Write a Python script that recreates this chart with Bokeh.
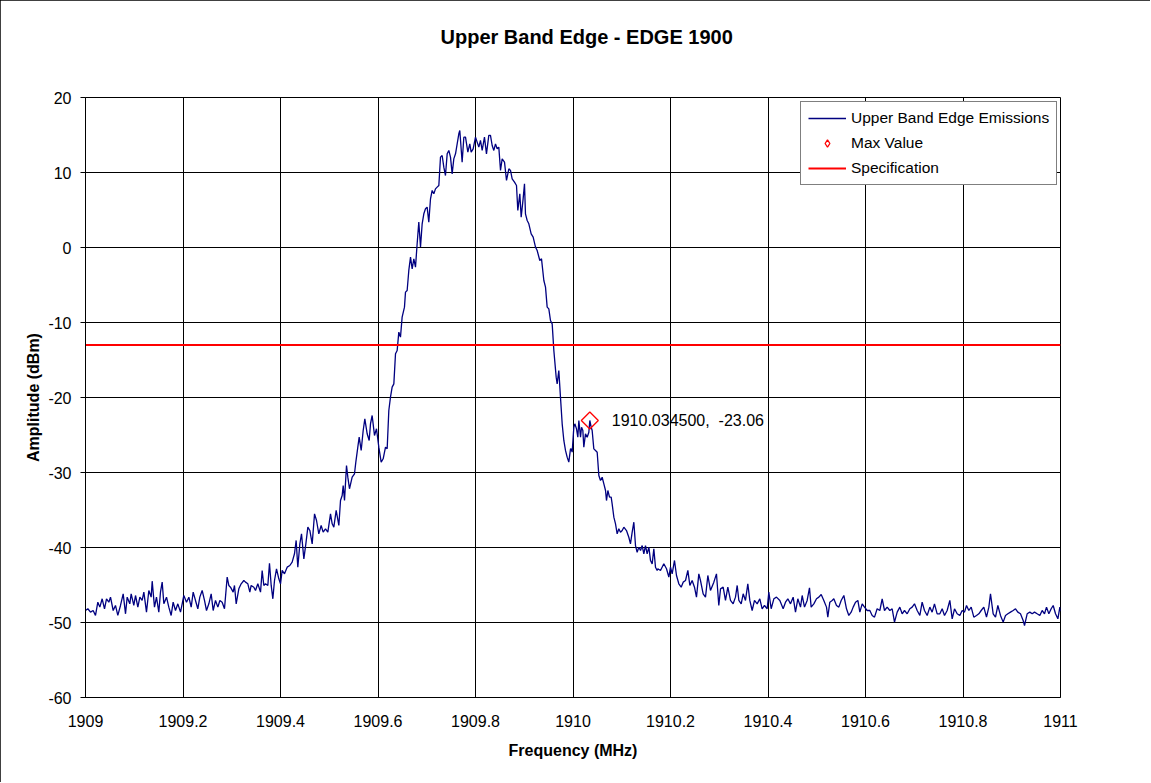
from bokeh.plotting import figure
from bokeh.models import FixedTicker, Legend, LegendItem, Label
from bokeh.embed import file_html
from bokeh.resources import INLINE
import math

# ---- data (frequency MHz, amplitude dBm) ----
floor_low = [
    (1909.0000, -48.40), (1909.0048, -48.17), (1909.0103, -48.62), (1909.0157, -48.40), (1909.0205, -49.06),
    (1909.0253, -47.29), (1909.0294, -47.95), (1909.0342, -46.84), (1909.0390, -48.17), (1909.0431, -46.84),
    (1909.0479, -47.29), (1909.0513, -46.62), (1909.0568, -48.40), (1909.0615, -47.73), (1909.0663, -49.06),
    (1909.0718, -47.73), (1909.0773, -46.17), (1909.0821, -48.84), (1909.0855, -46.62), (1909.0909, -47.51),
    (1909.0937, -46.17), (1909.0991, -47.73), (1909.1026, -46.40), (1909.1074, -47.95), (1909.1115, -46.62),
    (1909.1162, -47.06), (1909.1197, -45.95), (1909.1251, -48.62), (1909.1299, -45.73), (1909.1347, -46.62),
    (1909.1368, -44.49), (1909.1415, -47.95), (1909.1456, -46.62), (1909.1504, -48.62), (1909.1538, -45.95),
    (1909.1573, -44.62), (1909.1607, -47.51), (1909.1662, -46.62), (1909.1709, -47.95), (1909.1757, -49.06),
    (1909.1798, -47.29), (1909.1846, -48.40), (1909.1894, -47.51), (1909.1949, -48.62), (1909.1983, -47.51),
    (1909.2017, -46.40), (1909.2072, -47.29), (1909.2120, -46.62), (1909.2168, -47.95), (1909.2209, -45.95),
    (1909.2256, -47.06), (1909.2304, -48.17), (1909.2345, -46.62), (1909.2393, -45.73), (1909.2441, -47.06),
    (1909.2482, -48.40), (1909.2530, -47.51), (1909.2578, -46.17), (1909.2619, -48.40), (1909.2667, -47.06),
    (1909.2715, -47.95), (1909.2756, -47.06), (1909.2803, -47.29), (1909.2851, -48.17), (1909.2906, -43.95),
    (1909.2940, -45.06), (1909.2974, -45.29), (1909.3029, -45.95), (1909.3056, -45.06), (1909.3091, -47.51),
    (1909.3145, -45.51), (1909.3193, -44.84), (1909.3248, -44.40), (1909.3282, -44.62), (1909.3330, -44.84),
    (1909.3371, -45.95), (1909.3398, -45.06), (1909.3453, -45.29), (1909.3487, -45.73), (1909.3535, -44.84),
    (1909.3590, -45.95), (1909.3624, -43.06), (1909.3658, -45.06), (1909.3692, -44.84), (1909.3740, -45.06),
    (1909.3774, -42.09), (1909.3809, -45.06), (1909.3843, -46.84), (1909.3877, -44.40), (1909.3918, -42.84),
    (1909.3966, -44.17),
]

skirt_low = [
    (1909.4000, -44.84), (1909.4034, -43.06), (1909.4082, -43.51), (1909.4137, -42.62), (1909.4191, -42.40),
    (1909.4239, -41.95), (1909.4287, -40.84), (1909.4321, -39.06), (1909.4355, -42.62), (1909.4397, -39.51),
    (1909.4431, -38.17), (1909.4479, -41.51), (1909.4520, -39.51), (1909.4561, -37.28), (1909.4602, -37.73),
    (1909.4650, -39.51), (1909.4698, -35.51), (1909.4739, -36.40), (1909.4786, -38.17), (1909.4834, -37.06),
    (1909.4875, -37.95), (1909.4923, -37.51), (1909.4971, -37.95), (1909.5026, -35.51), (1909.5060, -36.84),
    (1909.5094, -37.28), (1909.5142, -35.06), (1909.5197, -37.06), (1909.5231, -33.73), (1909.5265, -33.06),
    (1909.5286, -31.73), (1909.5313, -33.73), (1909.5354, -29.06), (1909.5381, -30.62), (1909.5415, -32.17),
    (1909.5470, -30.62), (1909.5518, -30.17), (1909.5545, -28.62), (1909.5586, -26.62), (1909.5614, -25.28),
    (1909.5655, -27.06), (1909.5696, -24.40), (1909.5730, -22.84), (1909.5778, -24.84), (1909.5819, -25.73),
    (1909.5846, -23.51), (1909.5880, -22.40), (1909.5928, -25.06), (1909.5969, -24.17), (1909.6017, -26.62),
    (1909.6065, -28.62), (1909.6106, -28.17), (1909.6154, -26.62), (1909.6188, -26.84),
]

main_lobe = [
    (1909.6222, -21.73), (1909.6256, -19.95), (1909.6290, -18.62), (1909.6325, -18.18), (1909.6359, -14.17),
    (1909.6393, -13.73), (1909.6427, -11.29), (1909.6461, -11.95), (1909.6495, -9.29), (1909.6543, -7.95),
    (1909.6564, -5.95), (1909.6598, -5.73), (1909.6632, -3.06), (1909.6667, -1.29), (1909.6701, -2.84),
    (1909.6735, -1.51), (1909.6769, -2.62), (1909.6803, 0.49), (1909.6837, 3.38), (1909.6872, 0.07),
    (1909.6906, 3.16), (1909.6940, 4.49), (1909.6974, 5.16), (1909.7008, 5.38), (1909.7042, 3.38),
    (1909.7077, 6.49), (1909.7111, 7.60), (1909.7145, 7.16), (1909.7179, 7.82), (1909.7213, 8.05),
    (1909.7248, 8.27), (1909.7282, 12.05), (1909.7316, 12.27), (1909.7350, 10.71), (1909.7384, 9.60),
    (1909.7419, 12.49), (1909.7453, 12.94), (1909.7487, 12.05), (1909.7521, 9.82), (1909.7555, 11.82),
    (1909.7590, 12.49), (1909.7624, 13.82), (1909.7658, 15.16), (1909.7678, 15.60), (1909.7726, 11.38),
    (1909.7761, 14.71), (1909.7795, 14.71), (1909.7843, 12.71), (1909.7883, 13.82), (1909.7911, 12.71),
    (1909.7952, 13.16), (1909.8000, 14.71), (1909.8034, 14.05), (1909.8068, 13.38), (1909.8102, 14.27),
    (1909.8137, 12.94), (1909.8184, 14.71), (1909.8225, 12.49), (1909.8273, 14.94), (1909.8307, 14.94),
    (1909.8342, 13.60), (1909.8376, 12.94), (1909.8410, 13.82), (1909.8444, 13.16), (1909.8478, 13.38),
    (1909.8513, 10.27), (1909.8547, 11.82), (1909.8595, 11.38), (1909.8636, 8.94), (1909.8684, 10.49),
    (1909.8718, 10.27), (1909.8752, 9.16), (1909.8800, 8.71), (1909.8841, 8.27), (1909.8868, 4.94),
    (1909.8909, 7.16), (1909.8937, 4.05), (1909.8977, 6.49), (1909.9005, 8.49), (1909.9025, 4.49),
    (1909.9060, 3.60), (1909.9094, 3.16), (1909.9142, 1.82), (1909.9183, 1.38), (1909.9231, 0.05),
    (1909.9265, -0.40), (1909.9319, -1.73), (1909.9354, -1.51), (1909.9402, -4.40), (1909.9436, -5.29),
    (1909.9470, -7.95), (1909.9504, -8.18), (1909.9538, -9.73), (1909.9573, -10.18), (1909.9607, -13.73),
    (1909.9655, -17.29), (1909.9675, -18.18), (1909.9709, -16.40), (1909.9743, -19.95), (1909.9778, -23.51),
    (1909.9812, -25.73), (1909.9846, -27.06), (1909.9880, -27.95), (1909.9914, -28.62), (1909.9949, -26.84),
]

shoulder = [
    (1909.9962, -26.85), (1909.9983, -27.29), (1910.0017, -23.96), (1910.0038, -23.51), (1910.0072, -24.18),
    (1910.0099, -25.29), (1910.0120, -23.07), (1910.0154, -25.29), (1910.0175, -23.96), (1910.0202, -24.40),
    (1910.0222, -26.63), (1910.0256, -24.85), (1910.0291, -25.29), (1910.0325, -24.63), (1910.0345, -23.06),
    (1910.0373, -23.96), (1910.0393, -24.40), (1910.0427, -26.85), (1910.0462, -27.07), (1910.0496, -27.29),
    (1910.0530, -30.40), (1910.0564, -31.07), (1910.0598, -30.63), (1910.0633, -31.51), (1910.0667, -32.40),
    (1910.0687, -33.74), (1910.0715, -32.40), (1910.0749, -33.29), (1910.0783, -33.29), (1910.0803, -34.18),
    (1910.0838, -35.96), (1910.0872, -36.85), (1910.0906, -38.18), (1910.0940, -37.51), (1910.0974, -37.96),
    (1910.1009, -37.74), (1910.1043, -37.29), (1910.1097, -37.74), (1910.1145, -38.63), (1910.1179, -39.51),
    (1910.1214, -37.96), (1910.1248, -36.63), (1910.1282, -39.74), (1910.1316, -40.63), (1910.1350, -39.96),
    (1910.1385, -40.40), (1910.1419, -39.74), (1910.1453, -40.85), (1910.1487, -39.74), (1910.1521, -40.85),
    (1910.1556, -39.96), (1910.1590, -41.74), (1910.1624, -42.18), (1910.1658, -40.18), (1910.1692, -42.63),
    (1910.1726, -43.07),
]

floor_high = [
    (1910.1740, -42.84), (1910.1795, -43.06), (1910.1863, -42.17), (1910.1918, -42.84), (1910.1966, -43.95),
    (1910.2000, -42.62), (1910.2034, -43.51), (1910.2082, -41.73), (1910.2123, -43.73), (1910.2171, -44.84),
    (1910.2219, -45.29), (1910.2260, -44.62), (1910.2308, -44.40), (1910.2356, -43.06), (1910.2397, -45.06),
    (1910.2444, -44.40), (1910.2492, -45.29), (1910.2533, -46.62), (1910.2581, -43.51), (1910.2615, -44.40),
    (1910.2670, -46.17), (1910.2718, -46.62), (1910.2766, -43.73), (1910.2820, -45.73), (1910.2889, -44.62),
    (1910.2943, -43.51), (1910.2991, -47.73), (1910.3026, -45.51), (1910.3080, -45.29), (1910.3128, -47.06),
    (1910.3176, -45.29), (1910.3231, -47.06), (1910.3285, -47.51), (1910.3333, -46.62), (1910.3368, -45.06),
    (1910.3402, -47.06), (1910.3450, -47.51), (1910.3491, -46.17), (1910.3538, -47.06), (1910.3586, -44.84),
    (1910.3627, -47.06), (1910.3675, -48.40), (1910.3723, -47.06), (1910.3778, -47.51), (1910.3832, -46.84),
    (1910.3880, -48.17), (1910.3928, -47.73), (1910.3983, -48.17), (1910.4017, -45.95), (1910.4065, -48.17),
    (1910.4120, -46.84), (1910.4174, -46.62), (1910.4243, -47.06), (1910.4311, -48.17), (1910.4359, -47.29),
    (1910.4407, -46.84), (1910.4462, -47.51), (1910.4516, -46.62), (1910.4564, -48.62), (1910.4612, -46.84),
    (1910.4667, -47.95), (1910.4701, -46.40), (1910.4749, -47.95), (1910.4803, -47.06), (1910.4851, -45.37),
    (1910.4885, -47.95), (1910.4940, -47.51), (1910.4995, -46.84), (1910.5043, -46.62), (1910.5091, -46.26),
    (1910.5145, -47.06), (1910.5200, -47.95), (1910.5227, -49.29), (1910.5268, -47.29), (1910.5316, -47.06),
    (1910.5350, -46.84), (1910.5405, -47.73), (1910.5453, -47.95), (1910.5501, -47.06), (1910.5556, -46.40),
    (1910.5610, -48.17), (1910.5658, -49.06), (1910.5706, -48.62), (1910.5747, -47.95), (1910.5795, -47.29),
    (1910.5843, -47.06), (1910.5884, -48.62), (1910.5932, -47.51), (1910.5980, -47.95), (1910.6034, -48.40),
    (1910.6089, -48.40), (1910.6137, -49.06), (1910.6185, -49.29), (1910.6239, -48.17), (1910.6294, -48.40),
    (1910.6342, -46.84), (1910.6390, -48.40), (1910.6444, -47.95), (1910.6499, -48.40), (1910.6547, -48.17),
    (1910.6595, -49.95), (1910.6650, -48.62), (1910.6704, -47.95), (1910.6752, -48.84), (1910.6800, -48.40),
    (1910.6855, -48.84), (1910.6910, -48.17), (1910.6957, -47.95), (1910.7005, -47.51), (1910.7060, -48.40),
    (1910.7115, -49.06), (1910.7162, -47.29), (1910.7210, -48.40), (1910.7265, -49.06), (1910.7320, -47.95),
    (1910.7367, -48.62), (1910.7415, -47.51), (1910.7470, -48.84), (1910.7525, -48.84), (1910.7573, -48.17),
    (1910.7621, -49.06), (1910.7675, -48.40), (1910.7730, -47.06), (1910.7778, -49.51), (1910.7826, -48.17),
    (1910.7880, -48.84), (1910.7935, -49.06), (1910.7983, -48.40), (1910.8031, -48.62), (1910.8072, -47.73),
    (1910.8120, -48.40), (1910.8168, -47.95), (1910.8222, -49.29), (1910.8277, -49.06), (1910.8325, -48.84),
    (1910.8373, -48.40), (1910.8427, -47.95), (1910.8482, -49.29), (1910.8530, -47.95), (1910.8564, -46.17),
    (1910.8619, -48.84), (1910.8667, -49.29), (1910.8715, -47.73), (1910.8769, -49.06), (1910.8824, -49.95),
    (1910.8872, -49.06), (1910.8920, -48.84), (1910.8974, -48.62), (1910.9029, -48.40), (1910.9077, -48.17),
    (1910.9125, -48.62), (1910.9179, -48.84), (1910.9234, -49.73), (1910.9262, -50.40), (1910.9316, -48.84),
    (1910.9371, -48.62), (1910.9419, -48.84), (1910.9467, -48.62), (1910.9521, -48.84), (1910.9576, -49.06),
    (1910.9624, -48.40), (1910.9672, -48.84), (1910.9713, -47.95), (1910.9761, -48.84), (1910.9809, -48.17),
    (1910.9850, -47.73), (1910.9898, -48.84), (1910.9946, -49.51), (1910.9987, -47.95), (1911.0000, -48.50),
]

max_freq = 1910.0345
max_amp = -23.06

spec_freq = [1909.0, 1911.0]
spec_amp = [-13.0, -13.0]

x_ticks = [1909.0, 1909.2, 1909.4, 1909.6, 1909.8, 1910.0, 1910.2, 1910.4, 1910.6, 1910.8, 1911.0]
x_tick_labels = ["1909", "1909.2", "1909.4", "1909.6", "1909.8", "1910", "1910.2", "1910.4",
                 "1910.6", "1910.8", "1911"]
y_ticks = [-60, -50, -40, -30, -20, -10, 0, 10, 20]
y_tick_labels = ["-60", "-50", "-40", "-30", "-20", "-10", "0", "10", "20"]

chart_title = "Upper Band Edge - EDGE 1900"

# ---- build ----
trace = floor_low + skirt_low + main_lobe + shoulder + floor_high
freq = [f for f, a in trace]
amp = [a for f, a in trace]

FONT = "Liberation Sans"

p = figure(width=1150, height=782, x_range=(1909, 1911), y_range=(-60, 20),
           output_backend="svg", toolbar_location=None,
           min_border_left=85, min_border_right=90, min_border_top=97, min_border_bottom=85)
p.styles = {"outline": "1px solid black", "outline-offset": "-1px"}

# trailing blank line lifts the title higher within the top margin
p.title.text = chart_title + "\n "
p.title.text_font = FONT
p.title.text_font_size = "20px"
p.title.text_font_style = "bold"
p.title.text_color = "black"
p.title.text_line_height = 1.3
p.title.align = "left"
p.title.offset = 355
p.title.standoff = 42

p.background_fill_color = "white"
p.border_fill_color = "white"
p.outline_line_color = "black"
p.outline_line_width = 1

p.xaxis.ticker = FixedTicker(ticks=x_ticks)
p.xaxis.major_label_overrides = dict(zip(x_ticks, x_tick_labels))
p.yaxis.ticker = FixedTicker(ticks=y_ticks)
p.yaxis.major_label_overrides = dict(zip(y_ticks, y_tick_labels))
p.xgrid.ticker = FixedTicker(ticks=x_ticks)
p.ygrid.ticker = FixedTicker(ticks=y_ticks)
for g in (p.xgrid, p.ygrid):
    g.grid_line_color = "black"
    g.grid_line_alpha = 1.0
    g.grid_line_width = 1

for ax in (p.xaxis, p.yaxis):
    ax.axis_line_color = "black"
    ax.major_tick_line_color = "black"
    ax.minor_tick_line_color = None
    ax.major_label_text_font = FONT
    ax.major_label_text_font_size = "16px"
    ax.major_label_text_color = "black"
    ax.axis_label_text_font = FONT
    ax.axis_label_text_font_size = "16px"
    ax.axis_label_text_font_style = "bold"
    ax.axis_label_text_color = "black"

p.xaxis.major_tick_out = 0
p.xaxis.major_tick_in = 0
p.xaxis.major_label_standoff = 17
p.xaxis.axis_label = "Frequency (MHz)"
p.xaxis.axis_label_standoff = 12

p.yaxis.major_tick_out = 5
p.yaxis.major_tick_in = 0
p.yaxis.major_label_standoff = 9
p.yaxis.axis_label = "Amplitude (dBm)"
p.yaxis.axis_label_standoff = 3

r_trace = p.line(freq, amp, line_color="#000080", line_width=1.3)
r_spec = p.line(spec_freq, spec_amp, line_color="#ff0000", line_width=2.2)
r_max = p.scatter([max_freq], [max_amp], marker="square", angle=math.pi / 4, size=12,
                  line_color="#ff0000", fill_color=None, line_width=1.3)
# legend swatch for the max-value marker (drawn at zero size on the plot itself)
r_max_key = p.scatter([max_freq], [max_amp], marker="diamond", size=0,
                      line_color="#ff0000", fill_color=None, line_width=1.3)

p.add_layout(Label(x=max_freq, y=max_amp, text=f"{max_freq:.6f},\u00a0 {max_amp:.2f}",
                   x_offset=22, text_baseline="middle", text_align="left",
                   text_font=FONT, text_font_size="16px", text_color="black"))

legend = Legend(items=[
    LegendItem(label="Upper Band Edge Emissions", renderers=[r_trace]),
    LegendItem(label="Max Value", renderers=[r_max_key]),
    LegendItem(label="Specification", renderers=[r_spec]),
], location=(715, 512))
legend.margin = 0
legend.padding = 7
legend.spacing = 7
legend.label_height = 18
legend.glyph_height = 18
legend.glyph_width = 38
legend.label_standoff = 5
legend.label_text_font = FONT
legend.label_text_font_size = "15.5px"
legend.label_text_color = "black"
legend.border_line_color = "black"
legend.border_line_width = 1
legend.background_fill_color = "white"
legend.background_fill_alpha = 1.0
p.add_layout(legend)

open("out.html", "w").write(file_html(p, INLINE))
